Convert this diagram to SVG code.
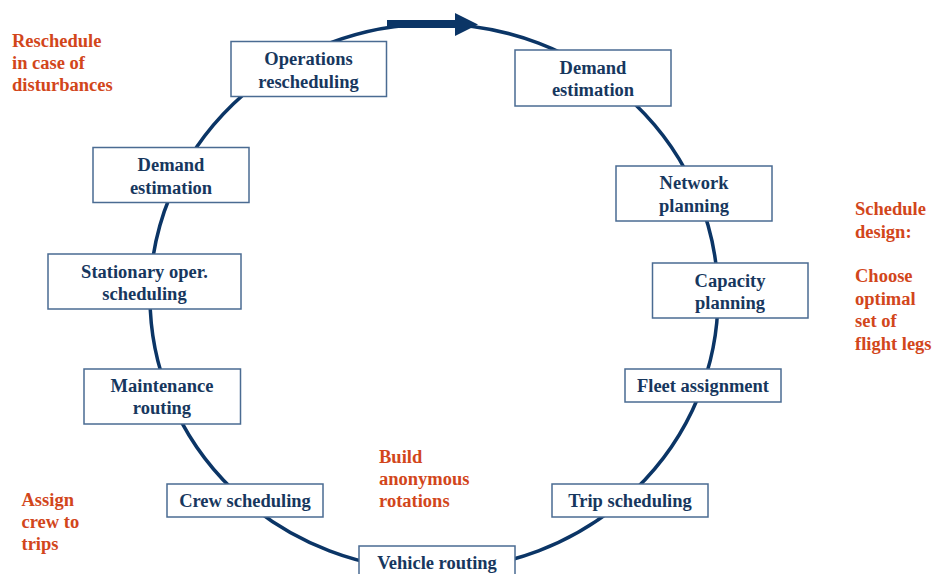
<svg xmlns="http://www.w3.org/2000/svg" width="935" height="574" viewBox="0 0 935 574">
  <style>
    .box rect { fill: #ffffff; stroke: #4a6b92; stroke-width: 1.5; }
    .box text { font-family: "Liberation Serif", "Times New Roman", serif; font-weight: bold; font-size: 18.5px; fill: #17375e; text-anchor: middle; }
    .note { font-family: "Liberation Serif", "Times New Roman", serif; font-weight: bold; font-size: 18.5px; fill: #d2461b; }
    .cycle { fill: none; stroke: #0b3566; stroke-width: 3.5; }
  </style>

  <!-- planning cycle -->
  <g id="connectors">
    <ellipse class="cycle" cx="434" cy="297" rx="284" ry="273"/>
    <polygon points="387,20 455,20 455,13 478,24.5 455,36 455,28 387,28" fill="#0b3566"/>
  </g>

  <g id="n-operations-rescheduling" class="box">
    <rect x="231" y="41.5" width="155.5" height="55"/>
    <text x="308.5" y="65">Operations</text>
    <text x="308.5" y="87.5">rescheduling</text>
  </g>

  <g id="n-demand-estimation-right" class="box">
    <rect x="515" y="50" width="156" height="56"/>
    <text x="593" y="73.5">Demand</text>
    <text x="593" y="95.5">estimation</text>
  </g>

  <g id="n-network-planning" class="box">
    <rect x="616" y="166" width="156" height="55"/>
    <text x="694" y="189">Network</text>
    <text x="694" y="212">planning</text>
  </g>

  <g id="n-capacity-planning" class="box">
    <rect x="652.5" y="263" width="155.5" height="55"/>
    <text x="730" y="287">Capacity</text>
    <text x="730" y="309">planning</text>
  </g>

  <g id="n-fleet-assignment" class="box">
    <rect x="625" y="369" width="156" height="33"/>
    <text x="703" y="392">Fleet assignment</text>
  </g>

  <g id="n-trip-scheduling" class="box">
    <rect x="552" y="484" width="156" height="33"/>
    <text x="630" y="507">Trip scheduling</text>
  </g>

  <g id="n-vehicle-routing" class="box">
    <rect x="359" y="546" width="156" height="40"/>
    <text x="437" y="569">Vehicle routing</text>
  </g>

  <g id="n-crew-scheduling" class="box">
    <rect x="167" y="484" width="156" height="33"/>
    <text x="245" y="507">Crew scheduling</text>
  </g>

  <g id="n-maintenance-routing" class="box">
    <rect x="84" y="369" width="156.5" height="55"/>
    <text x="162" y="392">Maintenance</text>
    <text x="162" y="414">routing</text>
  </g>

  <g id="n-stationary-scheduling" class="box">
    <rect x="48" y="254" width="193" height="55"/>
    <text x="144.5" y="278">Stationary oper.</text>
    <text x="144.5" y="300">scheduling</text>
  </g>

  <g id="n-demand-estimation-left" class="box">
    <rect x="93" y="147.5" width="156" height="55"/>
    <text x="171" y="171">Demand</text>
    <text x="171" y="193.5">estimation</text>
  </g>

  <!-- phase annotations -->
  <g id="note-reschedule">
    <text class="note" x="12" y="47">Reschedule</text>
    <text class="note" x="12" y="69">in case of</text>
    <text class="note" x="12" y="91">disturbances</text>
  </g>
  <g id="note-schedule-design">
    <text class="note" x="855" y="215">Schedule</text>
    <text class="note" x="855" y="237.5">design:</text>
    <text class="note" x="855" y="282">Choose</text>
    <text class="note" x="855" y="304.5">optimal</text>
    <text class="note" x="855" y="327">set of</text>
    <text class="note" x="855" y="349.5">flight legs</text>
  </g>
  <g id="note-rotations">
    <text class="note" x="379" y="463">Build</text>
    <text class="note" x="379" y="485">anonymous</text>
    <text class="note" x="379" y="507">rotations</text>
  </g>
  <g id="note-crew">
    <text class="note" x="21.5" y="506">Assign</text>
    <text class="note" x="21.5" y="528">crew to</text>
    <text class="note" x="21.5" y="550">trips</text>
  </g>
</svg>
